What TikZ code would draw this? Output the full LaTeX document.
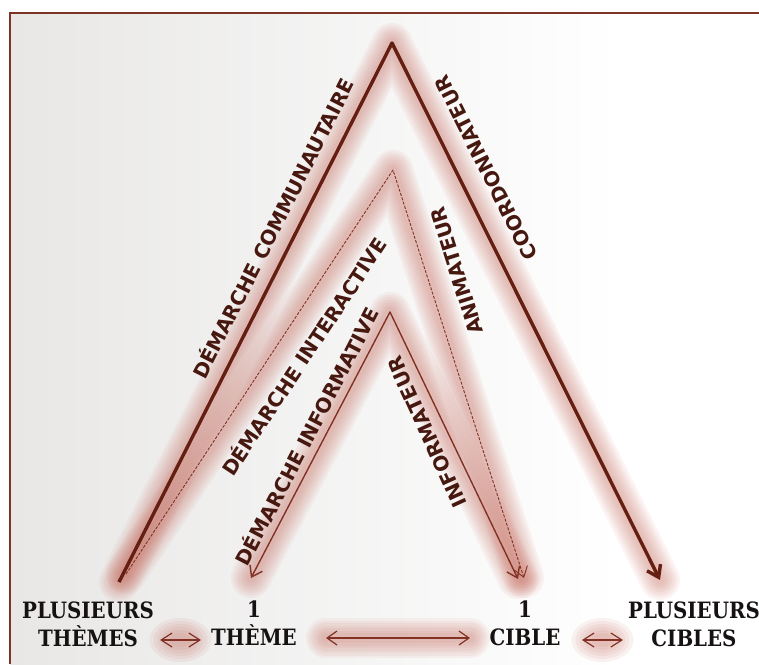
\documentclass[tikz,border=0pt]{standalone}
\usepackage{fontspec}
\usetikzlibrary{arrows.meta}
\newfontfamily\dfont{DejaVu Sans}
\newfontfamily\bfont{DejaVu Serif}[FakeStretch=0.88]
\definecolor{bgA}{RGB}{232,231,230}
\definecolor{brd}{RGB}{125,52,38}
\definecolor{coreA}{RGB}{100,30,18}
\definecolor{coreB}{RGB}{130,50,36}
\definecolor{glowc}{RGB}{195,95,80}
\definecolor{txtc}{RGB}{70,24,15}
\definecolor{btxt}{RGB}{22,18,18}
\newcommand{\glowline}[1]{%
  \foreach \w in {40,35,30,25,20,15,10} {%
    \draw[glowc, line width=\w pt, opacity=0.068, line cap=round, line join=round] #1;}
}
\newcommand{\glowblob}[1]{%
  \foreach \a/\b in {31/22,27/19,23/16,19/13,15/10,11/7} {%
    \fill[glowc, opacity=0.08] #1 ellipse (\a pt and \b pt);}
}
\tikzset{
  diag/.style={font=\dfont\fontsize{20}{24}\bfseries, text=txtc, inner sep=0pt},
  bot/.style={font=\bfont\fontsize{22.5}{28}\bfseries, text=btxt, align=center, inner sep=0pt},
  bigtip/.tip={Straight Barb[length=11pt, width=15pt]},
  midtip/.tip={Straight Barb[length=10pt, width=14pt]},
  smtip/.tip={Straight Barb[length=11pt, width=14pt]},
}
\begin{document}
\begin{tikzpicture}[x=1pt,y=-1pt]
\useasboundingbox (0,0) rectangle (759,664);
\fill[white] (0,0) rectangle (759,664);
\shade[left color=bgA, right color=white] (10,13) rectangle (620,664);
\draw[brd, line width=2pt] (759,13) -- (10,13) -- (10,664);

% key points
\coordinate (A1) at (392,43);
\coordinate (L1) at (119,582);
\coordinate (R1) at (660,580);
\coordinate (A2) at (393,170);
\coordinate (L2) at (126,574);
\coordinate (R2) at (524,578);
\coordinate (A3) at (390,312);
\coordinate (L3) at (251,578);
\coordinate (R3) at (518,579);

\coordinate (b1a) at (160,640);
\coordinate (b1b) at (201,640);
\coordinate (b2a) at (326,638);
\coordinate (b2b) at (470,638);
\coordinate (b3a) at (582,640);
\coordinate (b3b) at (623,640);

% glows
\glowline{(L1) -- (A1) -- (R1)}
\glowline{(L2) -- (A2) -- (R2)}
\glowline{(L3) -- (A3) -- (R3)}
\glowblob{(180.5,640)}
\glowblob{(602.5,640)}
\glowline{(b2a) -- (b2b)}

% core lines
\draw[coreA, line width=3.4pt, line join=round, -bigtip] (L1) -- (A1) -- (R1);
\draw[coreB, line width=0.9pt, dash pattern=on 3pt off 1.5pt, line join=round, -midtip] (L2) -- (A2) -- (R2);
\draw[coreB, line width=1.4pt, line join=round, midtip-midtip] (L3) -- (A3) -- (R3);

\draw[coreB, line width=1.2pt, smtip-smtip] (b1a) -- (b1b);
\draw[coreB, line width=1.2pt, midtip-midtip] (b2a) -- (b2b);
\draw[coreB, line width=1.2pt, smtip-smtip] (b3a) -- (b3b);

% bottom labels
\node[bot] (pt) at (88,624) {PLUSIEURS\\THÈMES};
\node[bot] (t1) at (254,623) {1\\THÈME};
\node[bot] (c1) at (525,623) {1\\CIBLE};
\node[bot] (pc) at (694,624) {PLUSIEURS\\CIBLES};

% diagonal labels
\node[diag, rotate=63.2] (lcomm) at (272,228) {DÉMARCHE COMMUNAUTAIRE};
\node[diag, rotate=116.6] (lcoord) at (486,168) {COORDONNATEUR};
\node[diag, rotate=56.5] (linter) at (303,356) {DÉMARCHE INTERACTIVE};
\node[diag, rotate=107.6] (lanim) at (457,271) {ANIMATEUR};
\node[diag, rotate=62.6] (linfo) at (306,436) {DÉMARCHE INFORMATIVE};
\node[diag, rotate=114.5] (linfr) at (427,432) {INFORMATEUR};
\end{tikzpicture}
\end{document}
